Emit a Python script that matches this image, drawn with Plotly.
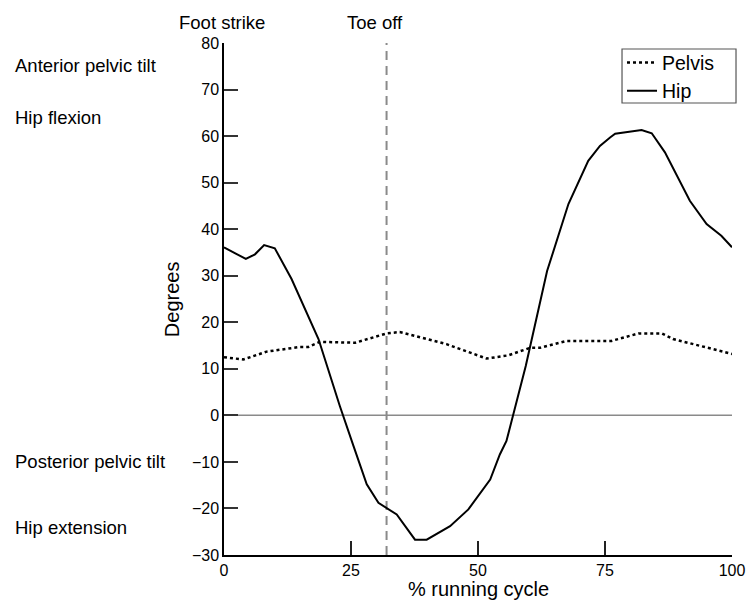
import plotly.graph_objects as go

# Data
hip_x = [0, 4.3, 6.1, 7.9, 10, 13.3, 18.6, 22.8, 25.5, 28.1, 30.4, 34, 37.6, 39.9,
         44.5, 48.1, 52.4, 54.3, 55.6, 56.9, 59.4, 63.6, 67.8, 71.7, 74, 76, 77,
         82.2, 84.2, 86.8, 91.7, 95, 97.9, 100]
hip_y = [36.1, 33.6, 34.6, 36.6, 35.9, 29.3, 16.4, 2, -6.6, -14.8, -18.8, -21.3,
         -26.7, -26.7, -23.8, -20.2, -13.8, -8.4, -5.5, 0, 10.6, 31, 45.4, 54.7,
         57.9, 59.7, 60.5, 61.3, 60.6, 56.5, 46.1, 41.1, 38.6, 36.1]

pelvis_x = [0, 3.8, 8.4, 15, 16.6, 18.9, 25.8, 32, 34.6, 43.8, 51.7, 56, 60.2,
            62.2, 67.5, 76.3, 81.6, 86.2, 88.4, 100]
pelvis_y = [12.5, 12.0, 13.7, 14.7, 14.7, 15.8, 15.6, 17.6, 17.9, 15.3, 12.2,
            12.9, 14.5, 14.5, 16, 16, 17.6, 17.6, 16.4, 13.2]

toe_off = 32
x_ticks = [0, 25, 50, 75, 100]
y_ticks = [80, 70, 60, 50, 40, 30, 20, 10, 0, -10, -20, -30]
x_range = [0, 100]
y_range = [-30, 80]

FONT = "Liberation Sans, Arial, Helvetica, sans-serif"

fig = go.Figure()
fig.add_trace(go.Scatter(x=pelvis_x, y=pelvis_y, mode="lines", name="Pelvis",
                         line=dict(color="black", width=2.5, dash="dot")))
fig.add_trace(go.Scatter(x=hip_x, y=hip_y, mode="lines", name="Hip",
                         line=dict(color="black", width=2)))

# zero line
fig.add_shape(type="line", xref="x", yref="y", x0=x_range[0], x1=x_range[1], y0=0, y1=0,
              line=dict(color="#8a8a8a", width=1.5), layer="below")
# toe off line
fig.add_shape(type="line", xref="x", yref="y", x0=toe_off, x1=toe_off,
              y0=y_range[0], y1=y_range[1],
              line=dict(color="#8a8a8a", width=2, dash="9px,6px"), layer="below")
# legend frame
fig.add_shape(type="rect", xref="paper", yref="paper", x0=0.7835, x1=1.0079,
              y0=0.8828, y1=0.9883, line=dict(color="#555", width=1.2),
              fillcolor="rgba(0,0,0,0)")

annotations = []
for t, xv in [("Foot strike", -0.003), ("Toe off", 0.297)]:
    annotations.append(dict(text=t, xref="paper", yref="paper", x=xv, y=1.041,
                            xanchor="center", yanchor="middle", showarrow=False,
                            font=dict(size=18.5, color="black", family=FONT)))
side_labels = [("Anterior pelvic tilt", 75.2), ("Hip flexion", 64.0),
               ("Posterior pelvic tilt", -10), ("Hip extension", -24)]
for t, yv in side_labels:
    annotations.append(dict(text=t, xref="paper", yref="y", x=-0.4154, y=yv,
                            xanchor="left", yanchor="middle", showarrow=False,
                            font=dict(size=18.5, color="black", family=FONT)))
# axis titles
annotations.append(dict(text="Degrees", xref="paper", yref="paper", x=-0.102, y=0.5,
                        xanchor="center", yanchor="middle", textangle=-90, showarrow=False,
                        font=dict(size=20, color="black", family=FONT)))
annotations.append(dict(text="% running cycle", xref="paper", yref="paper", x=0.5, y=-0.066,
                        xanchor="center", yanchor="middle", showarrow=False,
                        font=dict(size=20, color="black", family=FONT)))

fig.update_layout(
    width=747, height=605, autosize=False,
    margin=dict(l=224, r=15, t=43, b=50, autoexpand=False),
    paper_bgcolor="white", plot_bgcolor="white",
    font=dict(family=FONT, size=16, color="black"),
    annotations=annotations,
    showlegend=True,
    hovermode=False,
    legend=dict(x=0.7835, y=0.9994, xanchor="left", yanchor="top",
                borderwidth=0, bgcolor="rgba(0,0,0,0)",
                font=dict(size=19.5, family=FONT, color="black"),
                tracegroupgap=0, itemwidth=30),
    xaxis=dict(range=x_range, tickvals=x_ticks, ticks="inside", ticklen=14,
               tickwidth=1.5, tickcolor="#222", showline=True, linecolor="black",
               linewidth=1.5, showgrid=False, zeroline=False, automargin=False,
               tickfont=dict(size=16)),
    yaxis=dict(range=y_range, tickvals=y_ticks, ticks="inside", ticklen=14,
               tickwidth=1.5, tickcolor="#333", showline=True, linecolor="black",
               linewidth=1.5, showgrid=False, zeroline=False, automargin=False,
               tickfont=dict(size=16)),
)

fig.write_html("out.html", config={"displayModeBar": False},
               post_script="document.body.style.margin='0';document.body.style.overflow='hidden';")
